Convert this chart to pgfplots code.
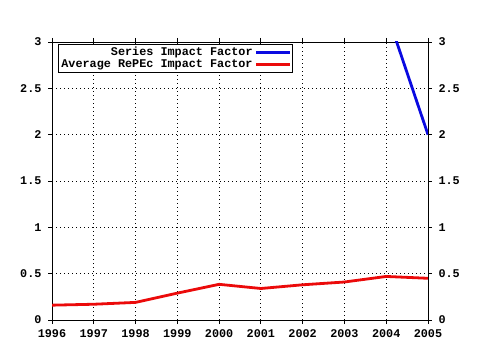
\documentclass[border=0pt]{standalone}
\usepackage{pgfplots}
\pgfplotsset{compat=1.18}
\usepackage{fontspec}
\setmainfont{Liberation Mono}
\definecolor{sblue}{RGB}{10,10,225}
\definecolor{sred}{RGB}{235,10,10}
\begin{document}
\begin{tikzpicture}
\pgfplotsset{
  common/.style={
    width=376pt, height=278pt, scale only axis,
    xmin=1996, xmax=2005, ymin=0, ymax=3,
    ytick={0,0.5,1,1.5,2,2.5,3},
    tick align=outside,
    major tick length=4pt, minor tick length=2.5pt,
    tick style={black, line width=0.8pt},
    axis line style={black, line width=0.8pt},
    /pgf/number format/assume math mode=true,
    /pgf/number format/1000 sep={},
    tick label style={font=\fontsize{11.8}{12}\selectfont\bfseries},
  }
}
\begin{axis}[common, name=ax,
    xtick={1996,1997,...,2005},
    minor x tick num=3,
    xtick pos=both, xticklabel pos=bottom,
    ytick pos=both, yticklabel pos=left,
    grid=major,
    major grid style={black, line width=0.8pt, dash pattern=on 1pt off 3pt},
    xticklabel style={yshift=-2pt},
    yticklabel style={xshift=-3pt},
    legend style={at={(rel axis cs:0.016,0.993)}, anchor=north west,
      draw=black, line width=0.8pt, fill=white,
      font=\fontsize{11.8}{12}\selectfont\bfseries,
      inner xsep=1pt, inner ysep=1pt, row sep=-1.5pt},
    legend cell align=right,
    legend plot pos=right,
    legend image code/.code={\draw[#1] (0pt,0pt) -- (34pt,0pt);},
]
\addplot[sblue, line width=2.8pt] coordinates {(2004,3.3333) (2005,2.0)};
\addlegendentry{Series Impact Factor}
\addplot[sred, line width=2.8pt] coordinates {
(1996,0.16) (1997,0.17) (1998,0.19) (1999,0.29) (2000,0.385)
(2001,0.34) (2002,0.38) (2003,0.41) (2004,0.47) (2005,0.45)};
\addlegendentry{Average RePEc Impact Factor}
\end{axis}
\begin{axis}[common,
    axis x line=none, axis y line*=right,
    ytick pos=right, yticklabel pos=right,
    yticklabel style={xshift=3pt, anchor=west},
]
\addplot[draw=none] coordinates {(1996,0) (2005,3)};
\end{axis}
\path[use as bounding box] ([xshift=-52pt,yshift=-30pt]ax.south west) rectangle ([xshift=52pt,yshift=42pt]ax.north east);
\end{tikzpicture}
\end{document}
